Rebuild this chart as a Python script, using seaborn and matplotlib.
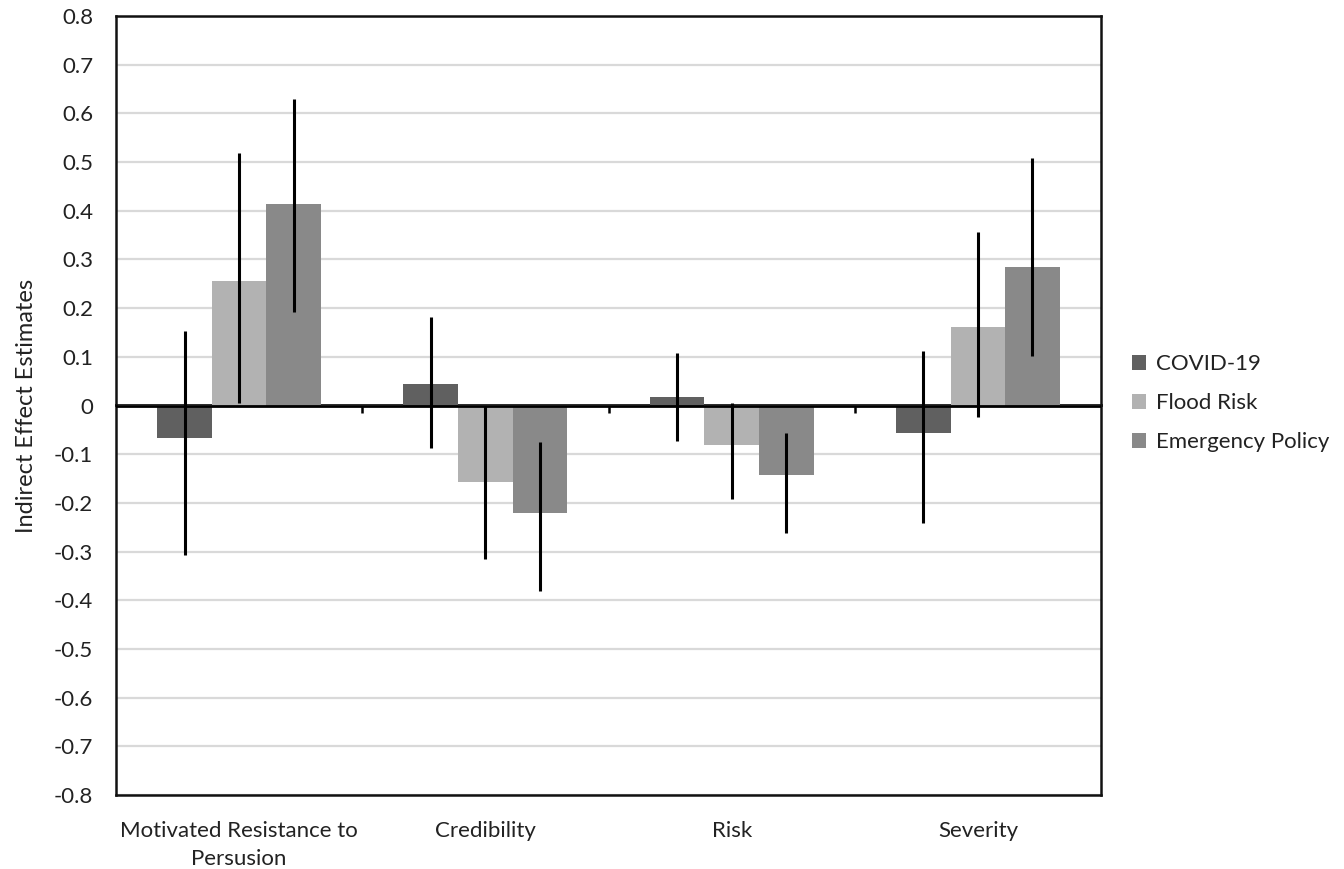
import numpy as np
import pandas as pd
import matplotlib
matplotlib.use("Agg")
import matplotlib.pyplot as plt
import seaborn as sns

# ---- data ----
categories = ["Motivated Resistance to\nPersusion", "Credibility", "Risk", "Severity"]
series = ["COVID-19", "Flood Risk", "Emergency Policy"]
covid = [-0.067, 0.044, 0.018, -0.056]
flood = [0.256, -0.157, -0.081, 0.161]
emergency = [0.414, -0.221, -0.143, 0.284]
covid_lo = [-0.307, -0.087, -0.073, -0.241]
covid_hi = [0.153, 0.182, 0.108, 0.112]
flood_lo = [0.005, -0.315, -0.192, -0.024]
flood_hi = [0.519, 0.0, 0.005, 0.356]
emerg_lo = [0.192, -0.381, -0.262, 0.102]
emerg_hi = [0.630, -0.075, -0.056, 0.508]
ytick_values = [0.8, 0.7, 0.6, 0.5, 0.4, 0.3, 0.2, 0.1, 0, -0.1, -0.2, -0.3, -0.4, -0.5, -0.6, -0.7, -0.8]
ytick_labels = ["0.8", "0.7", "0.6", "0.5", "0.4", "0.3", "0.2", "0.1", "0",
                "-0.1", "-0.2", "-0.3", "-0.4", "-0.5", "-0.6", "-0.7", "-0.8"]
colors = ["#606060", "#b2b2b2", "#898989"]

sns.set_style("white")
plt.rcParams["font.family"] = ["Lato", "DejaVu Sans"]
TXT = "#222222"
FS = 16

df = pd.DataFrame({
    "category": categories * 3,
    "series": [series[0]] * 4 + [series[1]] * 4 + [series[2]] * 4,
    "value": covid + flood + emergency,
})
lows = [covid_lo, flood_lo, emerg_lo]
highs = [covid_hi, flood_hi, emerg_hi]
vals = [covid, flood, emergency]

fig = plt.figure(figsize=(13.44, 8.69), dpi=100)
ax = fig.add_axes([116 / 1344, (869 - 795) / 869, 985 / 1344, 779 / 869])

sns.barplot(data=df, x="category", y="value", hue="series", hue_order=series,
            order=categories, palette=colors, saturation=1, width=0.665,
            linewidth=0, ax=ax, errorbar=None, zorder=2)

# error bars
bar_containers = list(ax.containers)
for i, cont in enumerate(bar_containers):
    xs = [p.get_x() + p.get_width() / 2 for p in cont.patches]
    v = np.array(vals[i])
    lo = v - np.array(lows[i])
    hi = np.array(highs[i]) - v
    ax.errorbar(xs, v, yerr=[lo, hi], fmt="none", ecolor="black",
                elinewidth=2.2, capsize=0, zorder=4)

ax.axhline(0, color="black", linewidth=2, zorder=3)

ax.set_ylim(-0.8, 0.8)
ax.set_xlim(-0.5, 3.5)
ax.set_yticks(ytick_values)
ax.set_yticklabels(ytick_labels)
ax.yaxis.grid(True, color="#d9d9d9", linewidth=1.6)
ax.set_axisbelow(True)
for s in ax.spines.values():
    s.set_visible(True)
    s.set_color("#111111")
    s.set_linewidth(1.8)

ax.tick_params(axis="y", length=0, pad=16.5, labelsize=FS, labelcolor=TXT)
ax.tick_params(axis="x", length=0, pad=19, labelsize=FS, labelcolor=TXT)
for lbl in ax.get_xticklabels():
    lbl.set_linespacing(1.45)
ax.set_xlabel("")
ax.set_ylabel("Indirect Effect Estimates", fontsize=17, color=TXT, labelpad=12)

# category boundary ticks on the zero line
sec = ax.secondary_xaxis(0.5)
sec.set_xticks([0.5, 1.5, 2.5])
sec.set_xticklabels(["", "", ""])
sec.tick_params(direction="in", length=6, width=1.8, color="black")
for s in sec.spines.values():
    s.set_color("black")
    s.set_linewidth(2)

leg = ax.legend(loc="center left", bbox_to_anchor=(1.031, 0.503), frameon=False,
                fontsize=FS, handlelength=0.65, handleheight=0.65,
                handletextpad=0.45, labelspacing=0.85, borderpad=0, borderaxespad=0)
for t in leg.get_texts():
    t.set_color(TXT)

fig.savefig("out.png", dpi=100, facecolor="white")
